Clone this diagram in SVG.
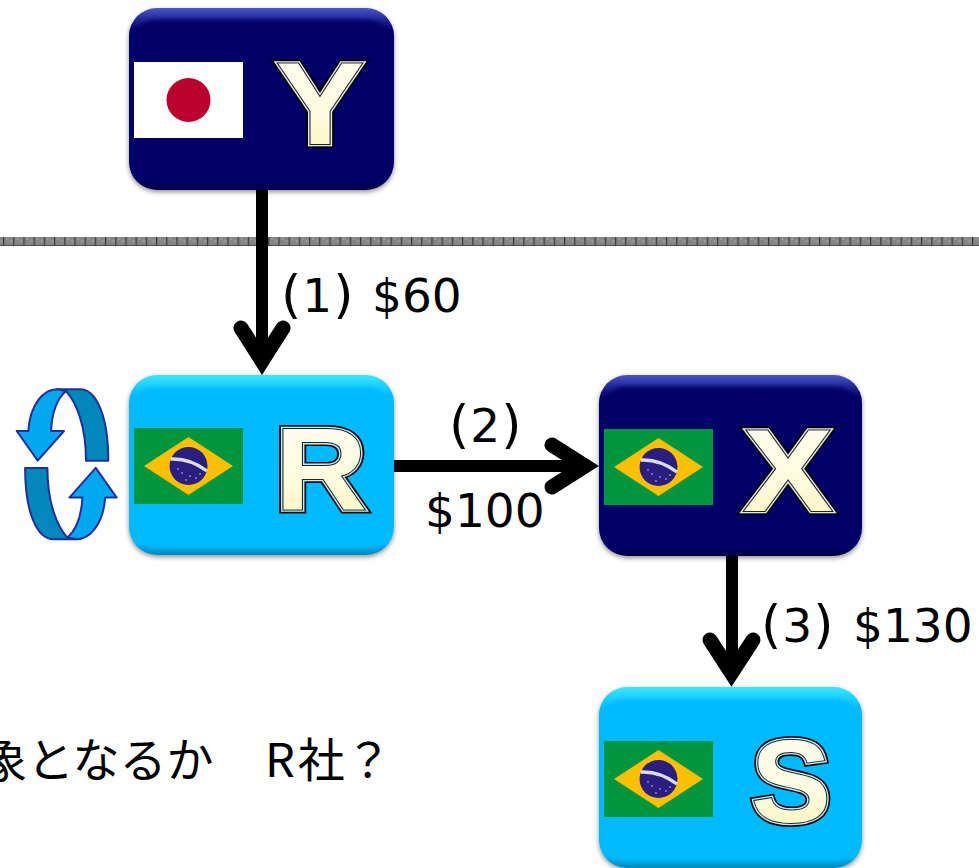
<svg xmlns="http://www.w3.org/2000/svg" width="979" height="868" viewBox="0 0 979 868">
<defs>
<style>
.lbl{font-family:"DejaVu Sans",Verdana,sans-serif;font-size:47px;fill:#000}
.p{font-size:52px}
.jp{font-family:"Noto Sans CJK JP","DejaVu Sans",sans-serif;font-size:47px;fill:#000}
.big{font-family:"Liberation Sans",Arial,sans-serif;font-weight:bold;font-size:117px;stroke-linejoin:miter;stroke-miterlimit:3}
.o1{fill:#000;stroke:#000;stroke-width:8px}
.o2{fill:none;stroke:#dfe6f5;stroke-width:4.6px}
.o2c{fill:none;stroke:#b8ecff;stroke-width:4.6px}
.o4{fill:none;stroke:#222;stroke-width:2px}
.o3{fill:url(#gold)}
.line{fill:none;stroke:#000;stroke-width:12}
.wing{fill:none;stroke:#000;stroke-width:15;stroke-linecap:round;stroke-linejoin:miter;stroke-miterlimit:10}
.cyc{stroke:#21309a;stroke-width:2;stroke-linejoin:round}
</style>
<linearGradient id="gold" x1="0" y1="0" x2="0" y2="1"><stop offset="0" stop-color="#fffef2"/><stop offset=".6" stop-color="#fffbdd"/><stop offset="1" stop-color="#fff3b0"/></linearGradient>
<linearGradient id="edgeN" x1="0" y1="0" x2="0" y2="1"><stop offset="0" stop-color="#4a54c8"/><stop offset=".12" stop-color="#000066"/><stop offset=".95" stop-color="#000066"/><stop offset="1" stop-color="#00003c"/></linearGradient>
<linearGradient id="edgeC" x1="0" y1="0" x2="0" y2="1"><stop offset="0" stop-color="#3ae8ff"/><stop offset=".12" stop-color="#00baff"/><stop offset=".93" stop-color="#00baff"/><stop offset="1" stop-color="#0088b8"/></linearGradient>
<filter id="sh" x="-10%" y="-10%" width="120%" height="125%"><feGaussianBlur in="SourceAlpha" stdDeviation="2.5"/><feOffset dy="2"/><feComponentTransfer><feFuncA type="linear" slope=".45"/></feComponentTransfer><feMerge><feMergeNode/><feMergeNode in="SourceGraphic"/></feMerge></filter>
<filter id="soft" x="-5%" y="-5%" width="110%" height="110%"><feGaussianBlur stdDeviation="2"/></filter>
<clipPath id="cY"><rect x="129" y="8" width="265" height="182" rx="28"/></clipPath>
<clipPath id="cR"><rect x="129" y="375" width="265" height="180" rx="28"/></clipPath>
<clipPath id="cX"><rect x="599" y="375" width="263" height="181" rx="28"/></clipPath>
<clipPath id="cS"><rect x="599" y="687" width="263" height="181" rx="28"/></clipPath>
<pattern id="hatch" width="10.2" height="9" patternUnits="userSpaceOnUse" x="3"><rect width="10.2" height="9" fill="#858585"/><rect y="2" width="10.2" height="1" fill="#505050"/><rect width="1.2" height="9" fill="#3c3c3c"/><rect x="3" y="4" width="2" height="2" fill="#9a9a9a"/><rect x="7" y="6" width="2" height="2" fill="#9a9a9a"/></pattern>
<g id="br"><rect width="109" height="76" fill="#009640"/><polygon points="10,38 54.500,9 99,38 54.500,67" fill="#fdc000"/><circle cx="54.500" cy="38" r="19" fill="#2a1f80"/><path d="M36.500,31 Q56,30 73,43" fill="none" stroke="#dcdce8" stroke-width="3.400"/><g fill="#cfcfe8"><circle cx="48" cy="45" r=".8"/><circle cx="56" cy="48" r=".8"/><circle cx="62" cy="50" r=".8"/><circle cx="44" cy="41" r=".8"/><circle cx="66" cy="46" r=".8"/><circle cx="52" cy="52" r=".8"/></g></g>
<path id="cy" d="M57,389.300 C43,389.300 30,405 28.300,431 L16.700,431 L37.700,460.700 L64,431 L51,431 C52,412 58,398 66,391 Z" fill="#00a8f0" class="cyc"/>
<path id="cz" d="M57,389.300 L80,389.300 C96,389.300 108.300,415 108.300,460.700 L86,460.700 C86,425 76,402 66,391 C63,389.500 60,389.300 57,389.300 Z" fill="#0088bb" class="cyc"/>
</defs>
<rect width="979" height="868" fill="#fff"/>
<rect id="border-line" x="0" y="237" width="979" height="9" fill="url(#hatch)"/>
<g id="connectors">
<path class="line" d="M262,190V362"/><path class="wing" d="M241,328L262,361L283,328"/>
<path class="line" d="M394,466H586"/><path class="wing" d="M552,445L585,466L552,487"/>
<path class="line" d="M732,556V674"/><path class="wing" d="M710,640L731.500,673L753,640"/>
</g>
<g id="node-Y"><rect x="129" y="8" width="265" height="182" rx="28" fill="url(#edgeN)" filter="url(#sh)"/><g clip-path="url(#cY)"><rect x="132" y="20" width="259" height="164" rx="24" fill="#000066" filter="url(#soft)"/></g>
<rect x="134" y="62" width="109" height="76" fill="#fff"/><circle cx="188.500" cy="100" r="22" fill="#bc002d"/>
<g class="big"><text class="o1" x="276" y="144" textLength="88" lengthAdjust="spacingAndGlyphs">Y</text><text class="o2" x="276" y="144" textLength="88" lengthAdjust="spacingAndGlyphs">Y</text><text class="o4" x="276" y="144" textLength="88" lengthAdjust="spacingAndGlyphs">Y</text><text class="o3" x="276" y="144" textLength="88" lengthAdjust="spacingAndGlyphs">Y</text></g></g>
<g id="node-R"><rect x="129" y="375" width="265" height="180" rx="28" fill="url(#edgeC)" filter="url(#sh)"/><g clip-path="url(#cR)"><rect x="132" y="387" width="259" height="161" rx="24" fill="#00baff" filter="url(#soft)"/></g>
<use href="#br" x="134" y="428"/>
<g class="big"><text class="o1" x="275" y="510" textLength="92" lengthAdjust="spacingAndGlyphs">R</text><text class="o2c" x="275" y="510" textLength="92" lengthAdjust="spacingAndGlyphs">R</text><text class="o4" x="275" y="510" textLength="92" lengthAdjust="spacingAndGlyphs">R</text><text class="o3" x="275" y="510" textLength="92" lengthAdjust="spacingAndGlyphs">R</text></g></g>
<g id="node-X"><rect x="599" y="375" width="263" height="181" rx="28" fill="url(#edgeN)" filter="url(#sh)"/><g clip-path="url(#cX)"><rect x="602" y="387" width="257" height="163" rx="24" fill="#000066" filter="url(#soft)"/></g>
<use href="#br" x="604" y="429"/>
<g class="big"><text class="o1" x="743" y="511" textLength="90" lengthAdjust="spacingAndGlyphs">X</text><text class="o2" x="743" y="511" textLength="90" lengthAdjust="spacingAndGlyphs">X</text><text class="o4" x="743" y="511" textLength="90" lengthAdjust="spacingAndGlyphs">X</text><text class="o3" x="743" y="511" textLength="90" lengthAdjust="spacingAndGlyphs">X</text></g></g>
<g id="node-S"><rect x="599" y="687" width="263" height="181" rx="28" fill="url(#edgeC)" filter="url(#sh)"/><g clip-path="url(#cS)"><rect x="602" y="699" width="257" height="162" rx="24" fill="#00baff" filter="url(#soft)"/></g>
<use href="#br" x="604" y="741"/>
<g class="big"><text class="o1" x="751" y="822" textLength="80" lengthAdjust="spacingAndGlyphs">S</text><text class="o2c" x="751" y="822" textLength="80" lengthAdjust="spacingAndGlyphs">S</text><text class="o4" x="751" y="822" textLength="80" lengthAdjust="spacingAndGlyphs">S</text><text class="o3" x="751" y="822" textLength="80" lengthAdjust="spacingAndGlyphs">S</text></g></g>
<g id="cycle"><use href="#cz"/><use href="#cy"/><g transform="rotate(180 66.700 464.300)"><use href="#cz"/><use href="#cy"/></g></g>
<g id="labels">
<text class="lbl" y="312"><tspan x="281" class="p">(</tspan><tspan dx="1">1</tspan><tspan dx="1" class="p">)</tspan> <tspan x="372">$60</tspan></text>
<text class="lbl" y="442"><tspan x="449" class="p">(</tspan><tspan dx="1">2</tspan><tspan dx="1" class="p">)</tspan></text>
<text class="lbl" x="425" y="527">$100</text>
<text class="lbl" y="642"><tspan x="761" class="p">(</tspan><tspan dx="1">3</tspan><tspan dx="1" class="p">)</tspan> <tspan x="853">$130</tspan></text>
<text class="jp" y="777"><tspan x="-20">象となるか　</tspan><tspan x="265">R</tspan><tspan dx="3">社？</tspan></text>
</g>
</svg>
